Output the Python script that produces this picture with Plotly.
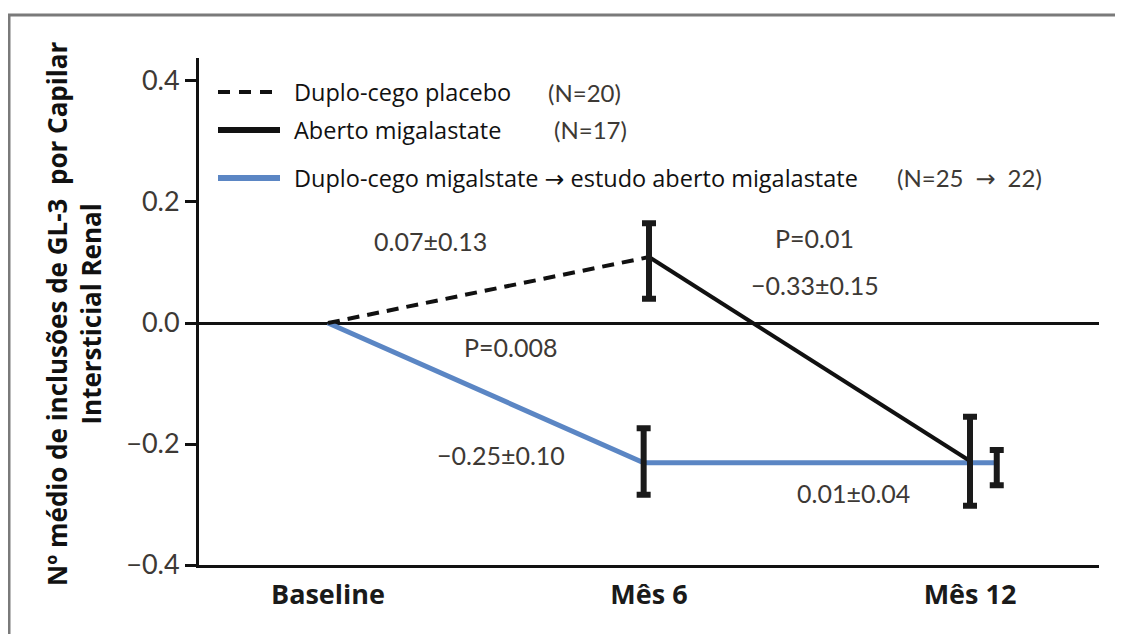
import plotly.graph_objects as go

# ---------------- data ----------------
tick_months = [0, 6, 12]
tick_labels = ["Baseline", "Mês 6", "Mês 12"]

placebo_x = [0, 6]
placebo_y = [0.0, 0.109]

open_x = [6, 12]
open_y = [0.109, -0.228]

switch_x = [0, 5.9, 12.5]
switch_y = [0.0, -0.231, -0.231]

# error bars: x, centre, upper bound, lower bound
eb_black_x = [6, 12]
eb_black_c = [0.109, -0.228]
eb_black_hi = [0.165, -0.155]
eb_black_lo = [0.040, -0.302]

eb_blue_x = [5.9, 12.5]
eb_blue_c = [-0.231, -0.231]
eb_blue_hi = [-0.174, -0.210]
eb_blue_lo = [-0.284, -0.268]

ARROW = '<span style="font-family:\'DejaVu Sans\'">\u2192</span>'
legend_names = ["Duplo-cego placebo", "Aberto migalastate",
                "Duplo-cego migalstate " + ARROW + " estudo aberto migalastate"]
legend_n = ["(N=20)", "(N=17)", "(N=25\u2002" + ARROW + "\u200222)"]

notes = [
    ("0.07\u00b10.13", 1.91, 0.136),
    ("P=0.01", 9.10, 0.140),
    ("\u22120.33\u00b10.15", 9.10, 0.063),
    ("P=0.008", 3.42, -0.040),
    ("\u22120.25\u00b10.10", 3.23, -0.218),
    ("0.01\u00b10.04", 9.83, -0.281),
]

# ---------------- figure ----------------
OFF = 8                      # page body margin of the html page
W, H = 1123 - OFF, 634 - OFF
L, R, T, B = 199 - OFF, 24, 58 - OFF, 69
PW, PH = W - L - R, H - T - B

def px(x):                   # reference pixel -> paper x
    return (x - OFF - L) / PW

def py(y):                   # reference pixel -> paper y
    return (H - B - (y - OFF)) / PH

BLUE = "#5b86c4"
TXT = "#3d3935"
CAL = "Open Sans"
NEJM = "Lato"

fig = go.Figure()

fig.add_trace(go.Scatter(x=switch_x, y=switch_y, mode="lines",
                         line=dict(color=BLUE, width=5), showlegend=False))
fig.add_trace(go.Scatter(x=placebo_x, y=placebo_y, mode="lines",
                         line=dict(color="#111111", width=4, dash="12px,8px"),
                         showlegend=False))
fig.add_trace(go.Scatter(x=open_x, y=open_y, mode="lines",
                         line=dict(color="#111111", width=4), showlegend=False))

for xs, cs, his, los in [(eb_black_x, eb_black_c, eb_black_hi, eb_black_lo),
                         (eb_blue_x, eb_blue_c, eb_blue_hi, eb_blue_lo)]:
    fig.add_trace(go.Scatter(
        x=xs, y=cs, mode="markers", marker=dict(size=1, opacity=0),
        showlegend=False, hoverinfo="skip",
        error_y=dict(type="data", symmetric=False,
                     array=[h - c for h, c in zip(his, cs)],
                     arrayminus=[c - l for c, l in zip(cs, los)],
                     color="#1a1a1a", thickness=6, width=7)))

shapes = []
# outer frame
shapes.append(dict(type="rect", xref="paper", yref="paper",
                   x0=px(9), x1=px(1250), y0=py(720), y1=py(15),
                   line=dict(color="#7a7a7a", width=3),
                   fillcolor="rgba(0,0,0,0)", layer="below"))
# manual legend samples
leg_rows = [92, 130, 178]
leg_styles = [dict(color="#111111", width=4, dash="12px,9px"),
              dict(color="#111111", width=6),
              dict(color=BLUE, width=6)]
for yr, st in zip(leg_rows, leg_styles):
    shapes.append(dict(type="line", xref="paper", yref="paper",
                       x0=px(218), x1=px(280), y0=py(yr), y1=py(yr), line=st))

annotations = []
leg_n_x = [546, 552, 895]
for yr, name, n, nx in zip(leg_rows, legend_names, legend_n, leg_n_x):
    annotations.append(dict(xref="paper", yref="paper", x=px(292), y=py(yr),
                            text=name, showarrow=False, xanchor="left",
                            yanchor="middle",
                            font=dict(family=CAL, size=23.5, color="#111111")))
    annotations.append(dict(xref="paper", yref="paper", x=px(nx), y=py(yr),
                            text=n, showarrow=False, xanchor="left",
                            yanchor="middle",
                            font=dict(family=NEJM, size=24, color=TXT)))

for txt, xx, yy in notes:
    annotations.append(dict(xref="x", yref="y", x=xx, y=yy, text=txt,
                            showarrow=False, xanchor="center", yanchor="middle",
                            font=dict(family=NEJM, size=25, color=TXT)))

annotations.append(dict(
    xref="paper", yref="paper", x=px(74), y=py(314),
    text="<b>N\u00ba médio de inclusões de GL-3\u00a0 por Capilar<br>Intersticial Renal</b>",
    textangle=-90, showarrow=False, xanchor="center", yanchor="middle",
    font=dict(family=CAL, size=26, color="#111111")))

tick_text = ["<b>%s</b>" % t for t in tick_labels]

fig.update_layout(
    width=W, height=H,
    margin=dict(l=L, r=R, t=T, b=B, pad=0),
    paper_bgcolor="white", plot_bgcolor="white",
    showlegend=False,
    shapes=shapes, annotations=annotations,
    xaxis=dict(range=[(199 - 328) / 53.5, (1099 - 328) / 53.5],
               showgrid=False, zeroline=False,
               showline=True, linecolor="#111111", linewidth=3,
               tickmode="array", tickvals=tick_months, ticktext=tick_text,
               ticks="", ticklabelstandoff=4,
               tickfont=dict(family=CAL, size=27, color="#1a1a1a")),
    yaxis=dict(range=[-0.4, 0.438], showgrid=False,
               zeroline=True, zerolinecolor="#111111", zerolinewidth=3,
               showline=True, linecolor="#111111", linewidth=3,
               tickmode="array", tickvals=[-0.4, -0.2, 0.0, 0.2, 0.4],
               tickformat=".1f", ticks="outside", ticklen=11, tickwidth=2.5,
               tickcolor="#111111",
               tickfont=dict(family=NEJM, size=27, color=TXT)),
)

fig.write_html("out.html")
